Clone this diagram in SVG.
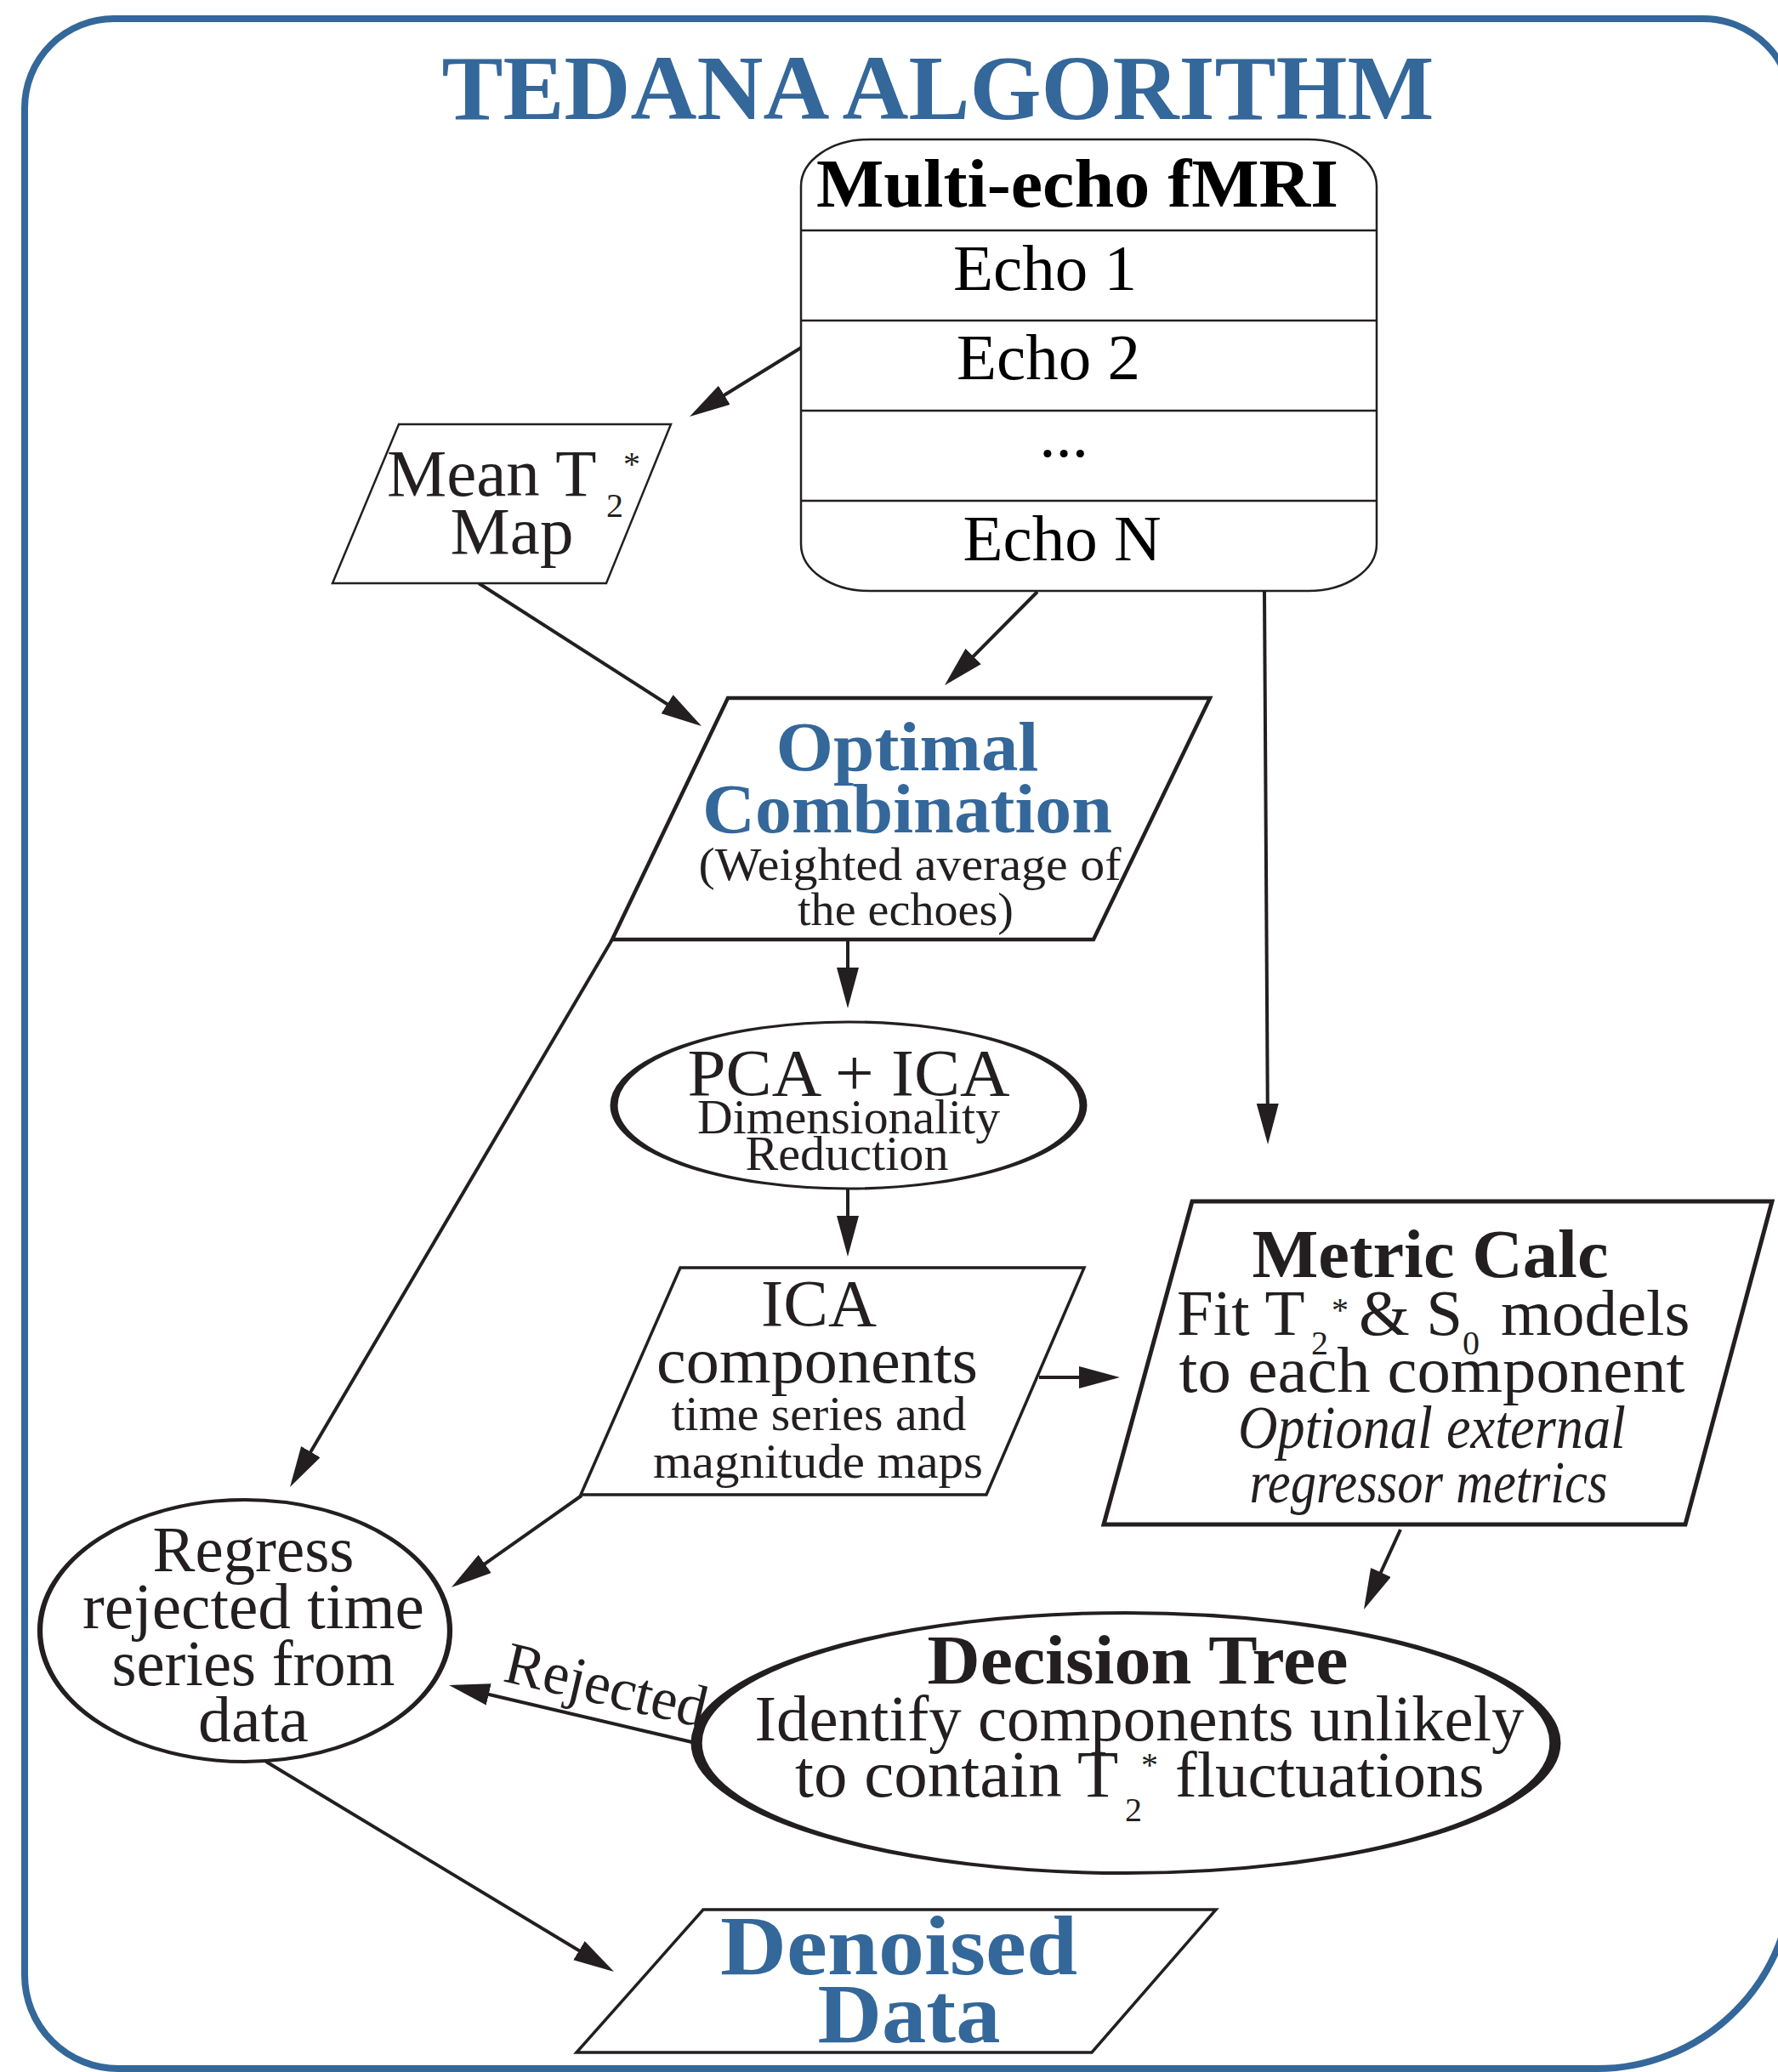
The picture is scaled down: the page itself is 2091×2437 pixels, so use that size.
<svg xmlns="http://www.w3.org/2000/svg" width="2091" height="2437" viewBox="0 0 2091 2437">
<style>
text{font-family:"Liberation Serif","Times New Roman",serif;fill:#231f20}
.b{font-weight:bold}
.blue{fill:#34679a}
.i{font-style:italic}
.shape{fill:#fff;stroke:#231f20;stroke-linejoin:miter}
.conn line{stroke:#231f20;stroke-width:4;fill:none}
</style>
<defs>
<marker id="ah" markerUnits="userSpaceOnUse" markerWidth="48" markerHeight="26" refX="40" refY="13" orient="auto" viewBox="0 0 48 26">
<path d="M0,0 L48,13 L0,26 Z" fill="#231f20"/>
</marker>
</defs>
<rect width="2091" height="2437" fill="#fff"/>
<path id="frame" d="M134,22 H2003 A105,105 0 0 1 2108,127 V2203 A230,230 0 0 1 1878,2433 H139 A110,110 0 0 1 29,2323 V127 A105,105 0 0 1 134,22 Z" fill="none" stroke="#34679a" stroke-width="8"/>
<text id="title" class="b blue" x="1103" y="140" font-size="107" text-anchor="middle" textLength="1167" lengthAdjust="spacingAndGlyphs">TEDANA ALGORITHM</text>

<g id="connectors" class="conn">
<line x1="942" y1="409" x2="817.8" y2="485.8" marker-end="url(#ah)"/>
<line x1="563" y1="686" x2="818.3" y2="849.7" marker-end="url(#ah)"/>
<line x1="1220" y1="696" x2="1116.6" y2="800.3" marker-end="url(#ah)"/>
<line x1="1487" y1="696" x2="1491" y2="1338" marker-end="url(#ah)"/>
<line x1="997" y1="1105" x2="997" y2="1178" marker-end="url(#ah)"/>
<line x1="720" y1="1105" x2="345.1" y2="1742.1" marker-end="url(#ah)"/>
<line x1="997" y1="1399" x2="997" y2="1470" marker-end="url(#ah)"/>
<line x1="1222" y1="1620" x2="1309" y2="1620" marker-end="url(#ah)"/>
<line x1="684" y1="1759" x2="537.5" y2="1862.4" marker-end="url(#ah)"/>
<line x1="1647" y1="1799" x2="1607.3" y2="1885.7" marker-end="url(#ah)"/>
<line x1="818" y1="2050" x2="535.8" y2="1983.8" marker-end="url(#ah)"/>
<line x1="313" y1="2072" x2="715.2" y2="2314.9" marker-end="url(#ah)"/>
<text x="590" y="1977" font-size="70" transform="rotate(13.2 590 1977)" textLength="242" lengthAdjust="spacingAndGlyphs">Rejected</text>
</g>

<g id="multiecho">
<rect class="shape" x="942" y="164" width="677" height="531" rx="80" ry="55" stroke-width="2.5"/>
<g stroke="#231f20" stroke-width="2.5">
<line x1="942" y1="271" x2="1619" y2="271"/>
<line x1="942" y1="377" x2="1619" y2="377"/>
<line x1="942" y1="483" x2="1619" y2="483"/>
<line x1="942" y1="589" x2="1619" y2="589"/>
</g>
<text class="b" x="1267" y="243" font-size="80" text-anchor="middle" textLength="614" lengthAdjust="spacingAndGlyphs" style="fill:#000">Multi-echo fMRI</text>
<text x="1229" y="341" font-size="77" text-anchor="middle" style="fill:#000">Echo 1</text>
<text x="1233" y="446" font-size="77" text-anchor="middle" style="fill:#000">Echo 2</text>
<text x="1251" y="537" font-size="77" text-anchor="middle" style="fill:#000">...</text>
<text x="1249" y="659" font-size="77" text-anchor="middle" style="fill:#000">Echo N</text>
</g>

<g id="meant2">
<polygon class="shape" points="469,499 789,499 713,686 391,686" stroke-width="2.5"/>
<text x="455" y="583" font-size="79">Mean T</text>
<text x="713" y="608" font-size="40">2</text>
<text x="733" y="559" font-size="40">*</text>
<text x="602" y="651" font-size="79" text-anchor="middle">Map</text>
</g>

<g id="optcomb">
<polygon class="shape" points="856,821 1423,821 1286,1105 720,1105" stroke-width="4.5"/>
<text class="b blue" x="1067" y="906" font-size="82" text-anchor="middle" textLength="309" lengthAdjust="spacingAndGlyphs">Optimal</text>
<text class="b blue" x="1067" y="979" font-size="82" text-anchor="middle" textLength="482" lengthAdjust="spacingAndGlyphs">Combination</text>
<text x="1070" y="1035" font-size="54" text-anchor="middle" textLength="497" lengthAdjust="spacingAndGlyphs">(Weighted average of</text>
<text x="1065" y="1088" font-size="54" text-anchor="middle" textLength="254" lengthAdjust="spacingAndGlyphs">the echoes)</text>
</g>

<g id="pcaica">
<g transform="translate(998,1300) scale(2.816,1)">
<circle class="shape" r="98" stroke-width="3.2"/>
</g>
<text x="998" y="1288" font-size="78" text-anchor="middle" textLength="379" lengthAdjust="spacingAndGlyphs">PCA + ICA</text>
<text x="998" y="1333" font-size="56" text-anchor="middle" textLength="356" lengthAdjust="spacingAndGlyphs">Dimensionality</text>
<text x="996" y="1376" font-size="56" text-anchor="middle" textLength="239" lengthAdjust="spacingAndGlyphs">Reduction</text>
</g>

<g id="icacomp">
<polygon class="shape" points="800,1491 1275,1491 1160,1758 683,1758" stroke-width="3.5"/>
<text x="963" y="1559" font-size="78" text-anchor="middle" textLength="136" lengthAdjust="spacingAndGlyphs">ICA</text>
<text x="961" y="1626" font-size="76" text-anchor="middle" textLength="378" lengthAdjust="spacingAndGlyphs">components</text>
<text x="963" y="1682" font-size="56" text-anchor="middle" textLength="347" lengthAdjust="spacingAndGlyphs">time series and</text>
<text x="962" y="1738" font-size="56" text-anchor="middle" textLength="388" lengthAdjust="spacingAndGlyphs">magnitude maps</text>
</g>

<g id="metriccalc">
<polygon class="shape" points="1402,1413 2084,1413 1982,1793 1298,1793" stroke-width="5"/>
<text class="b" x="1682" y="1502" font-size="80" text-anchor="middle" textLength="419" lengthAdjust="spacingAndGlyphs">Metric Calc</text>
<text x="1384" y="1570" font-size="77">Fit T</text>
<text x="1542" y="1593" font-size="40">2</text>
<text x="1566" y="1554" font-size="40">*</text>
<text x="1598" y="1570" font-size="77">&amp; S</text>
<text x="1720" y="1593" font-size="40">0</text>
<text x="1765" y="1570" font-size="77">models</text>
<text x="1684" y="1637" font-size="77" text-anchor="middle" textLength="595" lengthAdjust="spacingAndGlyphs">to each component</text>
<text class="i" x="1684" y="1703" font-size="72" text-anchor="middle" textLength="456" lengthAdjust="spacingAndGlyphs">Optional external</text>
<text class="i" x="1680" y="1767" font-size="70" text-anchor="middle" textLength="421" lengthAdjust="spacingAndGlyphs">regressor metrics</text>
</g>

<g id="regress">
<g transform="translate(288,1918) scale(1.565,1)">
<circle class="shape" r="154" stroke-width="4"/>
</g>
<text x="298" y="1848" font-size="77" text-anchor="middle" textLength="237" lengthAdjust="spacingAndGlyphs">Regress</text>
<text x="298" y="1915" font-size="77" text-anchor="middle" textLength="402" lengthAdjust="spacingAndGlyphs">rejected time</text>
<text x="298" y="1982" font-size="77" text-anchor="middle" textLength="333" lengthAdjust="spacingAndGlyphs">series from</text>
<text x="298" y="2048" font-size="77" text-anchor="middle" textLength="130" lengthAdjust="spacingAndGlyphs">data</text>
</g>

<g id="decisiontree">
<g transform="translate(1324,2050) scale(3.3,1)">
<circle class="shape" r="153" stroke-width="4"/>
</g>
<text class="b" x="1338" y="1980" font-size="82" text-anchor="middle" textLength="495" lengthAdjust="spacingAndGlyphs">Decision Tree</text>
<text x="1340" y="2047" font-size="77" text-anchor="middle" textLength="905" lengthAdjust="spacingAndGlyphs">Identify components unlikely</text>
<text x="935" y="2113" font-size="79">to contain T</text>
<text x="1323" y="2142" font-size="40">2</text>
<text x="1342" y="2089" font-size="40">*</text>
<text x="1382" y="2113" font-size="77">fluctuations</text>
</g>

<g id="denoised">
<polygon class="shape" points="827,2246 1430,2246 1284,2414 678,2414" stroke-width="3.5"/>
<text class="b blue" x="1057" y="2322" font-size="100" text-anchor="middle" textLength="420" lengthAdjust="spacingAndGlyphs">Denoised</text>
<text class="b blue" x="1069" y="2402" font-size="100" text-anchor="middle" textLength="215" lengthAdjust="spacingAndGlyphs">Data</text>
</g>
</svg>
